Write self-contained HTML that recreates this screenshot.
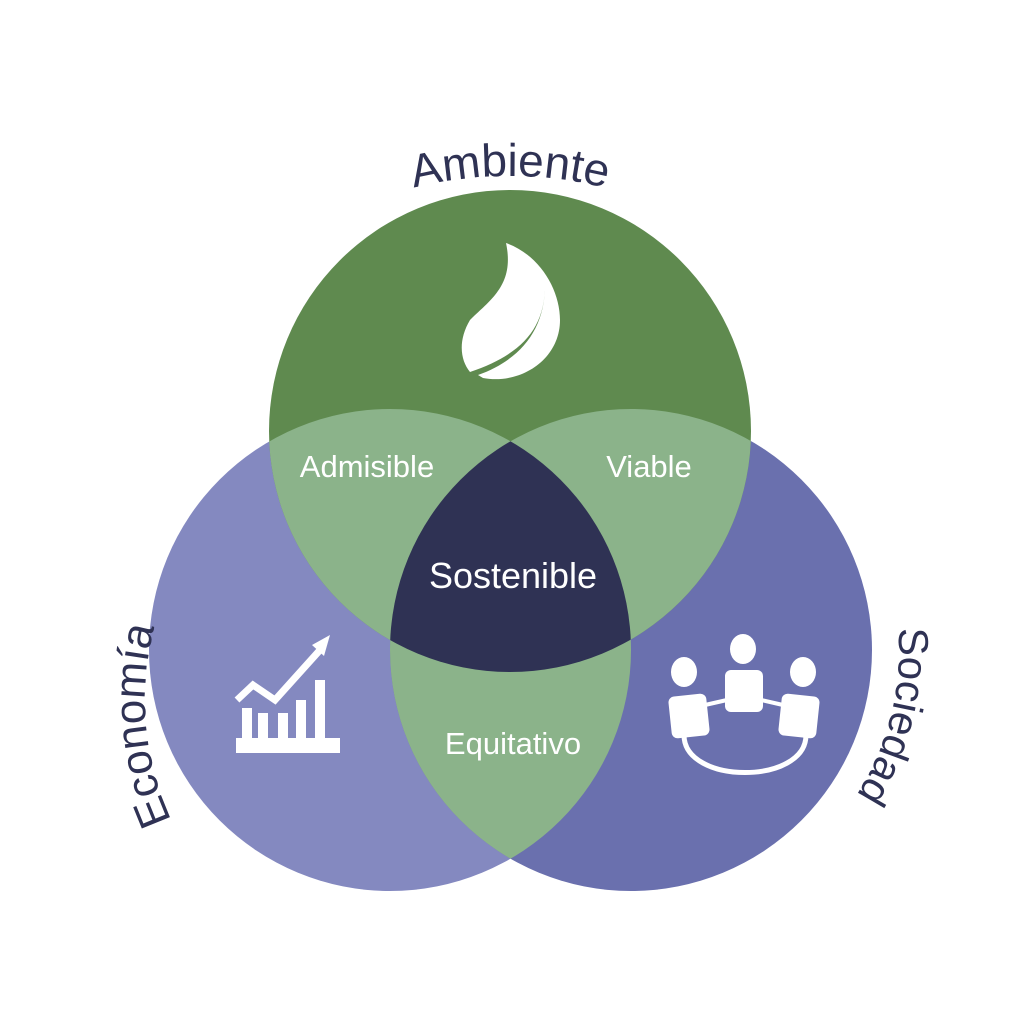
<!DOCTYPE html>
<html><head><meta charset="utf-8"><style>
html,body{margin:0;padding:0;background:#fff;}
svg{display:block;}
text{font-family:"Liberation Sans",sans-serif;}
</style></head><body>
<svg width="1024" height="1024" viewBox="0 0 1024 1024" xmlns="http://www.w3.org/2000/svg">
<defs>
<clipPath id="cT"><circle cx="510" cy="431" r="241"/></clipPath>
<clipPath id="cL"><circle cx="390" cy="650" r="241"/></clipPath>
<clipPath id="cR"><circle cx="631" cy="650" r="241"/></clipPath>
<path id="pA" d="M510,968 A396,396 0 1 1 510,176 A396,396 0 1 1 510,968"/>
<path id="pE" d="M430,985 A285,285 0 1 1 430,415 A285,285 0 1 1 430,985"/>
<path id="pS" d="M631,918 A268,268 0 1 1 631,382 A268,268 0 1 1 631,918"/>
</defs>
<rect width="1024" height="1024" fill="#fff"/>
<circle cx="390" cy="650" r="241" fill="#8489c0"/>
<circle cx="631" cy="650" r="241" fill="#6a70ae"/>
<circle cx="510" cy="431" r="241" fill="#5f8a4f"/>
<g clip-path="url(#cL)"><circle cx="631" cy="650" r="241" fill="#8bb38a"/><circle cx="510" cy="431" r="241" fill="#8bb38a"/></g>
<g clip-path="url(#cR)"><circle cx="510" cy="431" r="241" fill="#8bb38a"/></g>
<g clip-path="url(#cT)"><g clip-path="url(#cL)"><circle cx="631" cy="650" r="241" fill="#2f3254"/></g></g>

<!-- leaf -->
<path d="M506,243 C540,255 560,290 560,320 C560,360 520,385 483,378 L478,375 C520,360 545,330 545,285 C545,330 520,355 470,372 C460,360 458,340 470,320 C490,300 515,285 506,243 Z" fill="#fff"/>
<!-- chart -->
<g fill="#fff">
<rect x="236" y="738" width="104" height="15"/>
<rect x="242" y="708" width="10" height="32"/>
<rect x="258" y="713" width="10" height="27"/>
<rect x="278" y="713" width="10" height="27"/>
<rect x="296" y="700" width="10" height="40"/>
<rect x="315" y="680" width="10" height="60"/>
<polyline points="237,700 253,685 275,700 320,650" fill="none" stroke="#fff" stroke-width="7"/>
<polygon points="312,645 330,635 324,656"/>
</g>
<!-- people -->
<g fill="#fff">
<ellipse cx="743" cy="649" rx="13" ry="15"/>
<ellipse cx="684" cy="672" rx="13" ry="15"/>
<ellipse cx="803" cy="672" rx="13" ry="15"/>
<rect x="725" y="670" width="38" height="42" rx="6"/>
<rect x="670" y="695" width="38" height="42" rx="6" transform="rotate(-6 689 716)"/>
<rect x="780" y="695" width="38" height="42" rx="6" transform="rotate(6 799 716)"/>
</g>
<path d="M684,735 C684,785 806,785 806,735" fill="none" stroke="#fff" stroke-width="5"/>
<line x1="705" y1="705" x2="727" y2="700" stroke="#fff" stroke-width="4"/>
<line x1="761" y1="700" x2="783" y2="705" stroke="#fff" stroke-width="4"/>

<g fill="#fff" text-anchor="middle">
<text x="367" y="477" font-size="31">Admisible</text>
<text x="649" y="477" font-size="31">Viable</text>
<text x="513" y="588" font-size="36">Sostenible</text>
<text x="513" y="754" font-size="31">Equitativo</text>
</g>
<g fill="#2f3254">
<text text-anchor="middle" font-size="46"><textPath href="#pA" startOffset="50%">Ambiente</textPath></text>
<text text-anchor="middle" font-size="44"><textPath href="#pE" startOffset="23.6%">Economía</textPath></text>
<text text-anchor="middle" font-size="42"><textPath href="#pS" startOffset="78.9%">Sociedad</textPath></text>
</g>
</svg>
</body></html>
